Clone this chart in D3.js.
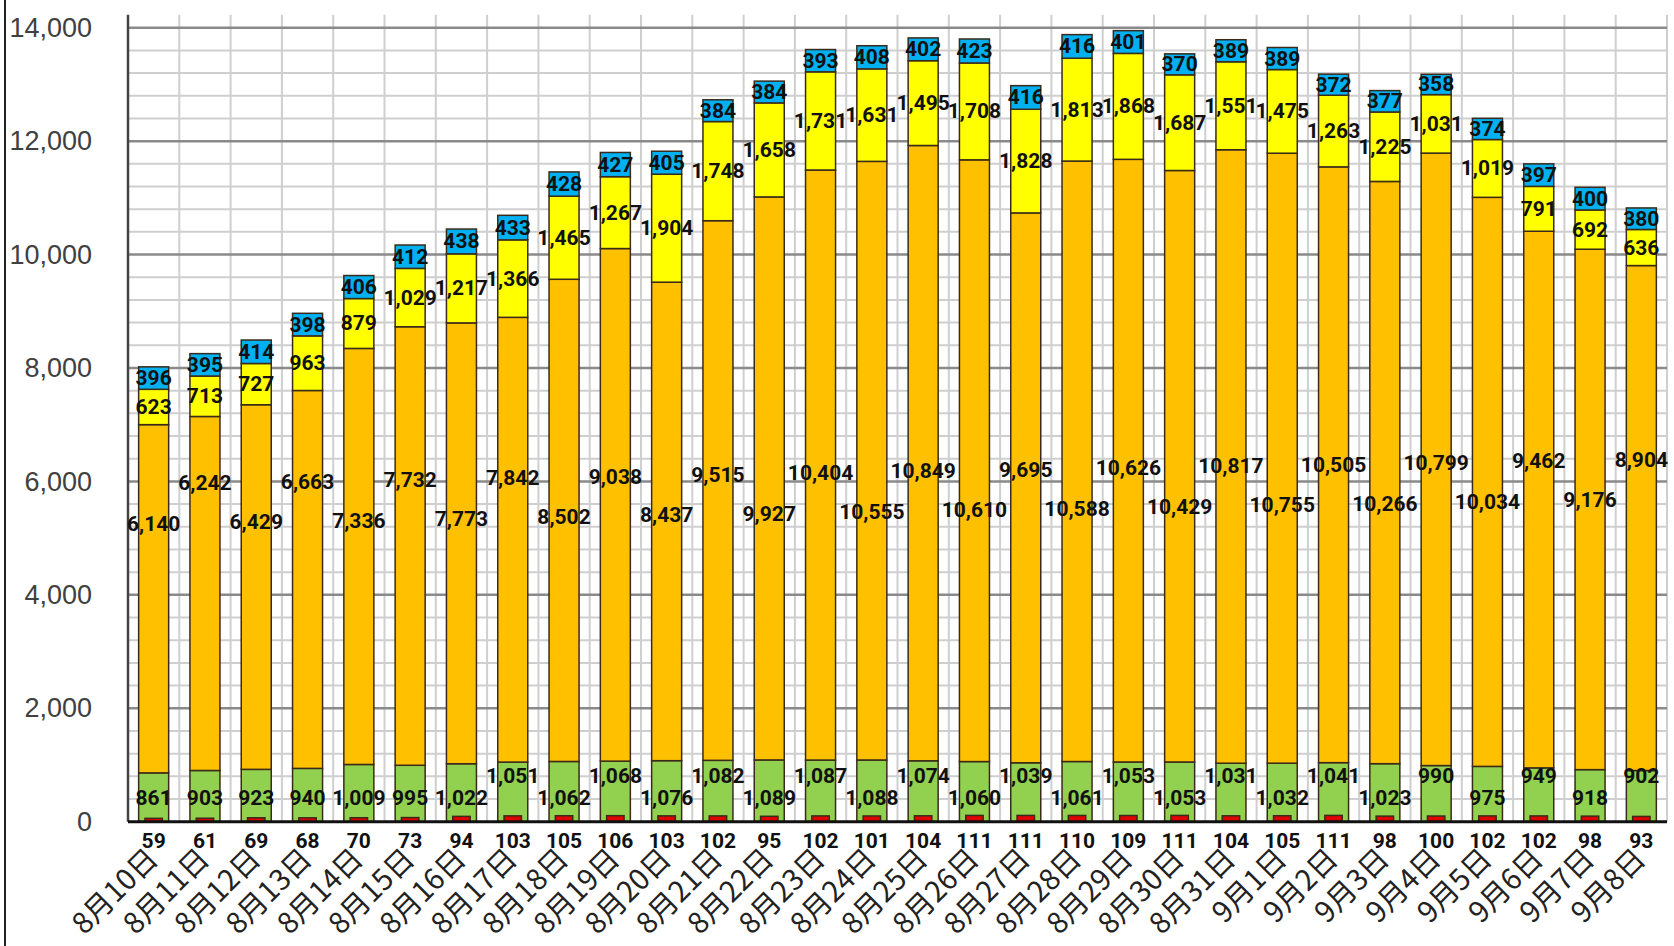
<!DOCTYPE html>
<html>
<head>
<meta charset="utf-8">
<script src="https://cdn.jsdelivr.net/npm/d3@7"></script>
<style>
  body { margin: 0; background: #fff; }
  .ytick { font-family: "Liberation Sans", Arial, sans-serif; font-size: 27px; fill: #404040; }
  .xcat { font-family: "Noto Sans CJK JP", "Noto Sans", sans-serif; font-size: 29px; fill: #222; }
  .val { font-family: Roboto, "Liberation Sans", sans-serif; font-weight: 700; font-size: 21px; fill: #111; }
</style>
</head>
<body>
<div id="chart"></div>
<script>
// categories
const dates = ["8月10日","8月11日","8月12日","8月13日","8月14日","8月15日","8月16日","8月17日","8月18日","8月19日",
  "8月20日","8月21日","8月22日","8月23日","8月24日","8月25日","8月26日","8月27日","8月28日","8月29日",
  "8月30日","8月31日","9月1日","9月2日","9月3日","9月4日","9月5日","9月6日","9月7日","9月8日"];

// stacked series, bottom to top
const green = [861,903,923,940,1009,995,1022,1051,1062,1068,1076,1082,1089,1087,1088,1074,1060,1039,1061,1053,1053,1031,1032,1041,1023,990,975,949,918,902];
const orange = [6140,6242,6429,6663,7336,7732,7773,7842,8502,9038,8437,9515,9927,10404,10555,10849,10610,9695,10588,10626,10429,10817,10755,10505,10266,10799,10034,9462,9176,8904];
const yellow = [623,713,727,963,879,1029,1217,1366,1465,1267,1904,1748,1658,1731,1631,1495,1708,1828,1813,1868,1687,1551,1475,1263,1225,1031,1019,791,692,636];
const blue = [396,395,414,398,406,412,438,433,428,427,405,384,384,393,408,402,423,416,416,401,370,389,389,372,377,358,374,397,400,380];
// narrow red bar drawn over the base of each column
const red = [59,61,69,68,70,73,94,103,105,106,103,102,95,102,101,104,111,111,110,109,111,104,105,111,98,100,102,102,98,93];

// y axis ticks
const yTicks = [0,2000,4000,6000,8000,10000,12000,14000];

const keys = ["green","orange","yellow","blue"];
const colors = {red: "#e00000", green: "#92d050", orange: "#ffc000", yellow: "#ffff00", blue: "#00b0f0"};

const width = 1674, height = 946;
const plotLeft = 128, plotRight = 1667, plotTop = 27.7, plotBottom = 821.7;

const svg = d3.select("#chart").append("svg")
    .attr("width", width)
    .attr("height", height);

const x = d3.scaleBand()
    .domain(dates)
    .range([plotLeft, plotRight])
    .paddingInner(0.415)
    .paddingOuter(0.2075);

const y = d3.scaleLinear()
    .domain([0, 14000])
    .range([plotBottom, plotTop]);

const rows = dates.map((d, i) => ({date: d, red: red[i], green: green[i], orange: orange[i], yellow: yellow[i], blue: blue[i]}));
const series = d3.stack().keys(keys)(rows);

// frame line on the far left
svg.append("line")
    .attr("x1", 5).attr("x2", 5).attr("y1", 0).attr("y2", height)
    .attr("stroke", "#222").attr("stroke-width", 2);

// grid
const grid = svg.append("g");
grid.selectAll("line.minor")
    .data(d3.range(400, 14000, 400).filter(v => v % 2000 !== 0))
    .enter().append("line")
        .attr("x1", plotLeft).attr("x2", plotRight)
        .attr("y1", d => y(d)).attr("y2", d => y(d))
        .attr("stroke", "#cfcfcf").attr("stroke-width", 2);
grid.selectAll("line.vert")
    .data(d3.range(1, dates.length + 1))
    .enter().append("line")
        .attr("x1", i => plotLeft + i * x.step()).attr("x2", i => plotLeft + i * x.step())
        .attr("y1", y(14000) - 13).attr("y2", plotBottom)
        .attr("stroke", "#cfcfcf").attr("stroke-width", 2);
grid.selectAll("line.major")
    .data(yTicks.filter(v => v > 0))
    .enter().append("line")
        .attr("x1", plotLeft).attr("x2", plotRight)
        .attr("y1", d => y(d)).attr("y2", d => y(d))
        .attr("stroke", "#8a8a8a").attr("stroke-width", 2.5);

// y axis labels
const yAxis = svg.append("g")
    .attr("transform", `translate(${plotLeft},0)`)
    .call(d3.axisLeft(y).tickValues(yTicks).tickSize(0).tickPadding(36).tickFormat(d3.format(",")));
yAxis.select(".domain").remove();
yAxis.attr("font-size", null).attr("font-family", null);
yAxis.selectAll("text").attr("class", "ytick").attr("fill", null);

svg.append("line")
    .attr("x1", plotLeft).attr("x2", plotLeft).attr("y1", y(14000) - 13).attr("y2", plotBottom)
    .attr("stroke", "#444").attr("stroke-width", 2.5);

// stacked bars
const bars = svg.append("g");
series.forEach(s => {
    bars.append("g")
        .selectAll("rect")
        .data(s)
        .enter()
        .append("rect")
            .attr("x", d => x(d.data.date))
            .attr("width", x.bandwidth())
            .attr("y", d => y(d[1]))
            .attr("height", d => y(d[0]) - y(d[1]))
            .attr("fill", colors[s.key])
            .attr("stroke", "#3a2a1a")
            .attr("stroke-width", 1.5);
});

// red bars
const redW = x.bandwidth() * 0.58;
bars.append("g")
    .selectAll("rect")
    .data(rows)
    .enter()
    .append("rect")
        .attr("x", d => x(d.date) + (x.bandwidth() - redW) / 2)
        .attr("width", redW)
        .attr("y", d => y(d.red))
        .attr("height", d => y(0) - y(d.red))
        .attr("fill", colors.red)
        .attr("stroke", "#3a2a1a")
        .attr("stroke-width", 1.5);

// x axis line
svg.append("line")
    .attr("x1", plotLeft).attr("x2", plotRight).attr("y1", plotBottom).attr("y2", plotBottom)
    .attr("stroke", "#111").attr("stroke-width", 3);

// data labels
const fmt = d3.format(",");
const labelValue = {
    green: (d, i) => (i >= 7 && i % 2 === 1) ? 800 : 420,
    orange: (d, i) => (i % 2 === 0 ? 5250 : 5950) + 15 * i,
    yellow: d => (d[0] + d[1]) / 2,
    blue: d => (d[0] + d[1]) / 2
};
const labels = svg.append("g");
series.forEach(s => {
    labels.append("g")
        .selectAll("text")
        .data(s)
        .enter()
        .append("text")
            .attr("class", "val")
            .attr("text-anchor", "middle")
            .attr("dominant-baseline", "central")
            .attr("x", d => x(d.data.date) + x.bandwidth() / 2)
            .attr("y", (d, i) => y(labelValue[s.key](d, i)))
            .text(d => fmt(d.data[s.key]));
});
labels.append("g")
    .selectAll("text")
    .data(rows)
    .enter()
    .append("text")
        .attr("class", "val")
        .attr("text-anchor", "middle")
        .attr("dominant-baseline", "central")
        .attr("x", d => x(d.date) + x.bandwidth() / 2)
        .attr("y", y(-340))
        .text(d => fmt(d.red));

// category labels
svg.append("g")
    .selectAll("text")
    .data(dates)
    .enter()
    .append("text")
        .attr("class", "xcat")
        .attr("text-anchor", "end")
        .attr("transform", d => `translate(${x(d) + x.bandwidth() / 2 + 6},${plotBottom + 39}) rotate(-45)`)
        .text(d => d);
</script>
</body>
</html>
